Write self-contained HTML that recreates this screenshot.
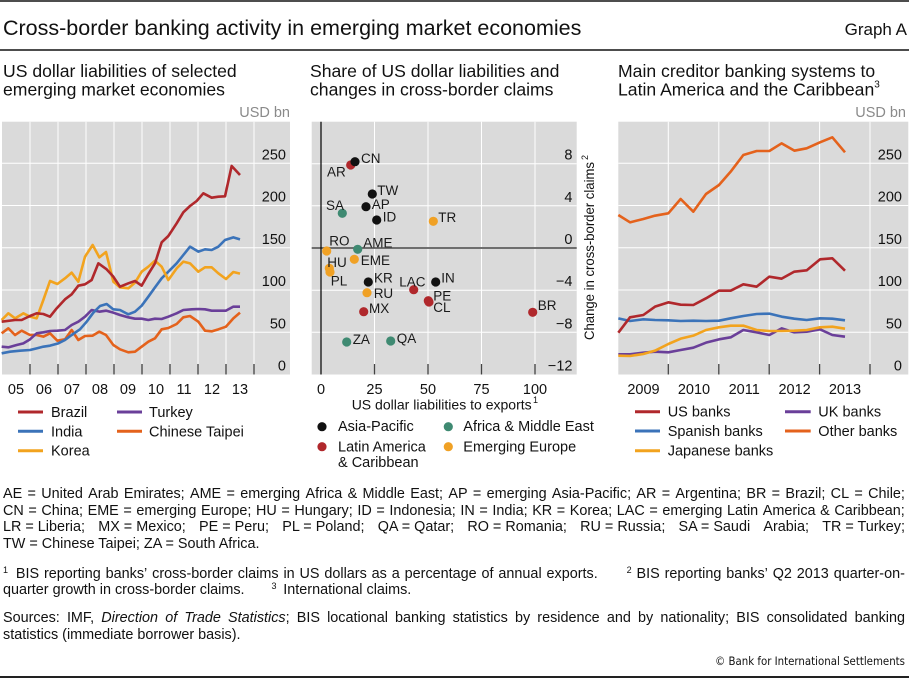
<!DOCTYPE html>
<html><head><meta charset="utf-8">
<style>
html,body{margin:0;padding:0;background:#fff;}
body{width:909px;height:678px;position:relative;overflow:hidden;font-family:"Liberation Sans",Arial,Helvetica,sans-serif;color:#111;}
svg{position:absolute;left:0;top:0;}
.fl{position:absolute;left:3px;width:902px;display:flex;justify-content:space-between;align-items:baseline;white-space:nowrap;font-size:14.4px;line-height:17px;}
.ab{position:absolute;white-space:nowrap;font-size:14.4px;line-height:17px;}
.sp{font-size:9px;position:relative;top:-5px;}
</style></head><body>
<svg width="909" height="678" viewBox="0 0 909 678" font-family="Liberation Sans, Arial, Helvetica, sans-serif" fill="#111">
<!-- rules -->
<rect x="0" y="0" width="909" height="2" fill="#4d4d4d"/>
<rect x="0" y="49" width="909" height="2" fill="#4d4d4d"/>
<rect x="0" y="676" width="909" height="2" fill="#222"/>

<text x="3" y="35" font-size="21.5">Cross-border banking activity in emerging market economies</text>
<text x="907" y="35" font-size="17" text-anchor="end">Graph A</text>

<!-- panel titles -->
<g font-size="17.6">
<text x="3" y="77">US dollar liabilities of selected</text>
<text x="3" y="95.5">emerging market economies</text>
<text x="310" y="77">Share of US dollar liabilities and</text>
<text x="310" y="95.5">changes in cross-border claims</text>
<text x="618" y="77">Main creditor banking systems to</text>
<text x="618" y="95.5">Latin America and the Caribbean<tspan font-size="10" dy="-8">3</tspan></text>
</g>
<g font-size="14.5" fill="#8a8a8a">
<text x="290" y="117" text-anchor="end">USD bn</text>
<text x="906" y="117" text-anchor="end">USD bn</text>
</g>

<!-- ===== LEFT PANEL ===== -->
<rect x="2" y="121.7" width="288" height="252.8" fill="#dadada"/>
<g stroke="#fff" stroke-width="1">
<line x1="2" y1="163.25" x2="290" y2="163.25"/>
<line x1="2" y1="205.5" x2="290" y2="205.5"/>
<line x1="2" y1="247.75" x2="290" y2="247.75"/>
<line x1="2" y1="290" x2="290" y2="290"/>
<line x1="2" y1="332.25" x2="290" y2="332.25"/>
<line x1="30" y1="121.7" x2="30" y2="374.5"/>
<line x1="58" y1="121.7" x2="58" y2="374.5"/>
<line x1="86" y1="121.7" x2="86" y2="374.5"/>
<line x1="114" y1="121.7" x2="114" y2="374.5"/>
<line x1="142" y1="121.7" x2="142" y2="374.5"/>
<line x1="170" y1="121.7" x2="170" y2="374.5"/>
<line x1="198" y1="121.7" x2="198" y2="374.5"/>
<line x1="226" y1="121.7" x2="226" y2="374.5"/>
<line x1="254" y1="121.7" x2="254" y2="374.5"/>
</g>
<g stroke="#444" stroke-width="1.3">
<line x1="30" y1="364" x2="30" y2="374.5"/>
<line x1="58" y1="364" x2="58" y2="374.5"/>
<line x1="86" y1="364" x2="86" y2="374.5"/>
<line x1="114" y1="364" x2="114" y2="374.5"/>
<line x1="142" y1="364" x2="142" y2="374.5"/>
<line x1="170" y1="364" x2="170" y2="374.5"/>
<line x1="198" y1="364" x2="198" y2="374.5"/>
<line x1="226" y1="364" x2="226" y2="374.5"/>
<line x1="254" y1="364" x2="254" y2="374.5"/>
</g>
<g font-size="14.5" text-anchor="end">
<text x="286" y="159.3">250</text>
<text x="286" y="201.5">200</text>
<text x="286" y="243.8">150</text>
<text x="286" y="286">100</text>
<text x="286" y="328.3">50</text>
<text x="286" y="370.5">0</text>
</g>
<g font-size="14.5" text-anchor="middle">
<text x="16" y="394">05</text>
<text x="44" y="394">06</text>
<text x="72" y="394">07</text>
<text x="100" y="394">08</text>
<text x="128" y="394">09</text>
<text x="156" y="394">10</text>
<text x="184" y="394">11</text>
<text x="212" y="394">12</text>
<text x="240" y="394">13</text>
</g>
<g transform="translate(0,100) scale(0.333333)" fill="none" stroke-width="7.8" stroke-linejoin="round" stroke-linecap="butt">
<polyline stroke="#e4621c" points="5,700 25,685 45,705 65,692 90,705 110,705 130,710 150,700 172,722 195,718 215,690 235,720 255,708 278,707 298,695 318,705 340,735 360,748 385,757 405,755 425,740 445,725 465,715 485,688 505,684 530,672 550,652 570,648 595,665 615,692 635,694 655,688 678,680 700,655 720,638"/>
<polyline stroke="#6a3f99" points="5,740 25,742 50,735 70,730 90,718 110,700 130,697 150,693 172,692 195,690 215,675 235,665 255,650 275,630 298,635 318,632 340,638 360,645 385,652 405,656 425,656 445,660 465,656 485,657 505,650 530,640 550,630 575,628 595,627 615,628 635,632 655,632 678,632 700,620 720,620"/>
<polyline stroke="#3b73b9" points="5,760 30,755 60,752 90,750 110,745 130,740 150,737 175,730 195,720 215,705 240,688 260,665 280,638 300,618 320,612 340,628 360,630 385,643 405,635 425,617 445,590 465,562 485,535 505,515 530,490 550,465 570,440 595,455 615,448 635,450 655,440 675,420 700,412 720,418"/>
<polyline stroke="#f2a31e" points="5,660 25,640 45,655 70,640 90,650 110,655 130,600 150,543 172,552 195,535 215,518 235,545 255,470 278,435 298,472 318,456 340,545 360,562 385,565 405,548 425,515 445,500 465,482 485,500 505,540 530,505 550,485 570,490 595,515 615,502 635,502 655,520 678,537 700,516 720,521"/>
<polyline stroke="#b0282c" points="5,665 45,660 65,660 90,648 110,640 130,642 150,650 170,625 195,598 215,583 235,557 255,553 275,540 295,490 320,508 340,530 360,560 385,550 405,543 425,557 445,522 465,490 485,427 505,408 530,370 550,337 570,318 590,303 610,280 635,293 655,290 675,289 695,198 720,225"/>
</g>
<!-- left legend -->
<g stroke-width="3">
<line x1="18" y1="412" x2="43" y2="412" stroke="#b0282c"/>
<line x1="18" y1="431.3" x2="43" y2="431.3" stroke="#3b73b9"/>
<line x1="18" y1="450.7" x2="43" y2="450.7" stroke="#f2a31e"/>
<line x1="117" y1="412" x2="142" y2="412" stroke="#6a3f99"/>
<line x1="117" y1="431.3" x2="142" y2="431.3" stroke="#e4621c"/>
</g>
<g font-size="14.5">
<text x="51" y="417">Brazil</text>
<text x="51" y="436.3">India</text>
<text x="51" y="455.7">Korea</text>
<text x="149" y="417">Turkey</text>
<text x="149" y="436.3">Chinese Taipei</text>
</g>

<!-- ===== MIDDLE PANEL ===== -->
<rect x="311.7" y="121.7" width="265" height="252.8" fill="#dadada"/>
<g stroke="#fff" stroke-width="1">
<line x1="311.7" y1="163.7" x2="576.7" y2="163.7"/>
<line x1="311.7" y1="205.8" x2="576.7" y2="205.8"/>
<line x1="311.7" y1="290.2" x2="576.7" y2="290.2"/>
<line x1="311.7" y1="332.3" x2="576.7" y2="332.3"/>
<line x1="374.5" y1="121.7" x2="374.5" y2="374.5"/>
<line x1="428" y1="121.7" x2="428" y2="374.5"/>
<line x1="481.5" y1="121.7" x2="481.5" y2="374.5"/>
<line x1="535" y1="121.7" x2="535" y2="374.5"/>
</g>
<g stroke="#444" stroke-width="1.3">
<line x1="374.5" y1="364" x2="374.5" y2="374.5"/>
<line x1="428" y1="364" x2="428" y2="374.5"/>
<line x1="481.5" y1="364" x2="481.5" y2="374.5"/>
<line x1="535" y1="364" x2="535" y2="374.5"/>
</g>
<line x1="311.7" y1="248" x2="576.7" y2="248" stroke="#6e6e6e" stroke-width="2"/>
<line x1="321" y1="121.7" x2="321" y2="374.5" stroke="#000" stroke-width="1.2"/>
<g font-size="14.5" text-anchor="end">
<text x="572.5" y="159.7">8</text>
<text x="572.5" y="201.8">4</text>
<text x="572.5" y="244">0</text>
<text x="572.5" y="286.2">−4</text>
<text x="572.5" y="328.3">−8</text>
<text x="572.5" y="370.5">−12</text>
</g>
<g font-size="14.5" text-anchor="middle">
<text x="321" y="394">0</text>
<text x="374.5" y="394">25</text>
<text x="428" y="394">50</text>
<text x="481.5" y="394">75</text>
<text x="535" y="394">100</text>
</g>
<text x="351.7" y="409.5" font-size="14" textLength="180" lengthAdjust="spacingAndGlyphs">US dollar liabilities to exports</text>
<text x="533" y="403" font-size="9">1</text>
<text transform="translate(594,340) rotate(-90)" font-size="14" textLength="178" lengthAdjust="spacingAndGlyphs">Change in cross-border claims</text>
<text transform="translate(588,160) rotate(-90)" font-size="9">2</text>
<!-- dots -->
<g>
<circle cx="350.7" cy="165" r="4.6" fill="#b0282c"/>
<circle cx="355" cy="161.7" r="4.6" fill="#111"/>
<circle cx="372.3" cy="194" r="4.6" fill="#111"/>
<circle cx="366" cy="206.7" r="4.6" fill="#111"/>
<circle cx="376.7" cy="220" r="4.6" fill="#111"/>
<circle cx="342.3" cy="213.3" r="4.6" fill="#3f8a72"/>
<circle cx="433.3" cy="221.3" r="4.6" fill="#f0a125"/>
<circle cx="326.7" cy="251" r="4.6" fill="#f0a125"/>
<circle cx="357.7" cy="249.3" r="4.6" fill="#3f8a72"/>
<circle cx="354.3" cy="259.3" r="4.6" fill="#f0a125"/>
<circle cx="329.3" cy="268.3" r="4.6" fill="#f0a125"/>
<circle cx="330" cy="272" r="4.6" fill="#f0a125"/>
<circle cx="368.3" cy="282" r="4.6" fill="#111"/>
<circle cx="435.7" cy="282" r="4.6" fill="#111"/>
<circle cx="413.7" cy="289.7" r="4.6" fill="#b0282c"/>
<circle cx="367" cy="292.7" r="4.6" fill="#f0a125"/>
<circle cx="428.3" cy="300.7" r="4.6" fill="#b0282c"/>
<circle cx="429" cy="302" r="4.6" fill="#b0282c"/>
<circle cx="363.7" cy="311.7" r="4.6" fill="#b0282c"/>
<circle cx="532.7" cy="312.3" r="4.6" fill="#b0282c"/>
<circle cx="346.7" cy="342" r="4.6" fill="#3f8a72"/>
<circle cx="390.7" cy="341" r="4.6" fill="#3f8a72"/>
</g>
<g font-size="13.5" fill="#1a1a1a">
<text x="361" y="163">CN</text>
<text x="327" y="176.5">AR</text>
<text x="377.3" y="194.8">TW</text>
<text x="371.7" y="209">AP</text>
<text x="382.7" y="221.5">ID</text>
<text x="326" y="209.8">SA</text>
<text x="438.3" y="222">TR</text>
<text x="329.3" y="245.5">RO</text>
<text x="363.3" y="247.5">AME</text>
<text x="360.7" y="264.8">EME</text>
<text x="327.3" y="267">HU</text>
<text x="330.7" y="285.5">PL</text>
<text x="374" y="282.5">KR</text>
<text x="441.3" y="282.5">IN</text>
<text x="399.3" y="286.5">LAC</text>
<text x="373.7" y="298">RU</text>
<text x="433.3" y="300.5">PE</text>
<text x="433.3" y="312">CL</text>
<text x="369" y="313">MX</text>
<text x="537.7" y="309.8">BR</text>
<text x="352.7" y="343.8">ZA</text>
<text x="396.7" y="342.8">QA</text>
</g>
<!-- middle legend -->
<circle cx="322" cy="426.7" r="4.6" fill="#111"/>
<circle cx="322" cy="446.7" r="4.6" fill="#b0282c"/>
<circle cx="448.3" cy="426.7" r="4.6" fill="#3f8a72"/>
<circle cx="448.3" cy="446.7" r="4.6" fill="#f0a125"/>
<g font-size="14.5">
<text x="338" y="431">Asia-Pacific</text>
<text x="338" y="451.5">Latin America</text>
<text x="338" y="467">&amp; Caribbean</text>
<text x="463.3" y="431">Africa &amp; Middle East</text>
<text x="463.3" y="451.5">Emerging Europe</text>
</g>

<!-- ===== RIGHT PANEL ===== -->
<rect x="618.3" y="121.7" width="290" height="252.8" fill="#dadada"/>
<g stroke="#fff" stroke-width="1">
<line x1="618.3" y1="163.25" x2="908.3" y2="163.25"/>
<line x1="618.3" y1="205.5" x2="908.3" y2="205.5"/>
<line x1="618.3" y1="247.75" x2="908.3" y2="247.75"/>
<line x1="618.3" y1="290" x2="908.3" y2="290"/>
<line x1="618.3" y1="332.25" x2="908.3" y2="332.25"/>
<line x1="668.3" y1="121.7" x2="668.3" y2="374.5"/>
<line x1="718.8" y1="121.7" x2="718.8" y2="374.5"/>
<line x1="769.2" y1="121.7" x2="769.2" y2="374.5"/>
<line x1="819.6" y1="121.7" x2="819.6" y2="374.5"/>
<line x1="870" y1="121.7" x2="870" y2="374.5"/>
</g>
<g stroke="#444" stroke-width="1.3">
<line x1="668.3" y1="364" x2="668.3" y2="374.5"/>
<line x1="718.8" y1="364" x2="718.8" y2="374.5"/>
<line x1="769.2" y1="364" x2="769.2" y2="374.5"/>
<line x1="819.6" y1="364" x2="819.6" y2="374.5"/>
<line x1="870" y1="364" x2="870" y2="374.5"/>
</g>
<g font-size="14.5" text-anchor="end">
<text x="902" y="159.3">250</text>
<text x="902" y="201.5">200</text>
<text x="902" y="243.8">150</text>
<text x="902" y="286">100</text>
<text x="902" y="328.3">50</text>
<text x="902" y="370.5">0</text>
</g>
<g font-size="14.5" text-anchor="middle">
<text x="643.5" y="394">2009</text>
<text x="694" y="394">2010</text>
<text x="744.2" y="394">2011</text>
<text x="794.6" y="394">2012</text>
<text x="845" y="394">2013</text>
</g>
<g transform="translate(600,100) scale(0.333333)" fill="none" stroke-width="7.8" stroke-linejoin="round">
<polyline stroke="#e4621c" points="55,345 90,367 130,357 165,347 205,340 242,297 280,335 318,282 357,255 392,215 430,165 470,153 508,153 545,130 583,152 620,145 660,127 697,112 735,157"/>
<polyline stroke="#3b73b9" points="55,655 90,663 130,658 165,660 205,661 242,663 280,662 318,663 357,662 392,655 430,648 470,642 508,641 545,650 583,656 620,660 660,655 697,656 735,661"/>
<polyline stroke="#6a3f99" points="55,763 90,763 130,758 165,755 205,757 242,750 280,743 318,728 357,718 392,712 430,690 470,697 508,705 545,685 583,697 620,695 660,688 697,705 735,710"/>
<polyline stroke="#f2a31e" points="55,767 90,768 130,762 165,752 205,732 242,716 280,707 318,690 357,682 392,677 430,677 470,690 508,693 545,693 583,692 620,690 660,682 697,680 735,686"/>
<polyline stroke="#b0282c" points="55,698 90,652 130,645 165,620 205,607 242,614 280,615 318,595 357,572 392,572 430,553 470,560 508,530 545,536 583,515 620,511 660,478 697,475 735,512"/>
</g>
<!-- right legend -->
<g stroke-width="3">
<line x1="635" y1="411.7" x2="660" y2="411.7" stroke="#b0282c"/>
<line x1="635" y1="431" x2="660" y2="431" stroke="#3b73b9"/>
<line x1="635" y1="450.7" x2="660" y2="450.7" stroke="#f2a31e"/>
<line x1="785" y1="411.7" x2="810.7" y2="411.7" stroke="#6a3f99"/>
<line x1="785" y1="431" x2="810.7" y2="431" stroke="#e4621c"/>
</g>
<g font-size="14.5">
<text x="667.7" y="416.7">US banks</text>
<text x="667.7" y="436">Spanish banks</text>
<text x="667.7" y="455.7">Japanese banks</text>
<text x="818.3" y="416.7">UK banks</text>
<text x="818.3" y="436">Other banks</text>
</g>

<text x="905" y="665" font-size="11.5" text-anchor="end" font-family="DejaVu Sans, Liberation Sans, sans-serif" textLength="190" lengthAdjust="spacingAndGlyphs">© Bank for International Settlements</text>
</svg>

<div class="fl" style="top:485.5px"><span>AE</span><span>=</span><span>United</span><span>Arab</span><span>Emirates;</span><span>AME</span><span>=</span><span>emerging</span><span>Africa</span><span>&amp;</span><span>Middle</span><span>East;</span><span>AP</span><span>=</span><span>emerging</span><span>Asia-Pacific;</span><span>AR</span><span>=</span><span>Argentina;</span><span>BR</span><span>=</span><span>Brazil;</span><span>CL</span><span>=</span><span>Chile;</span></div>
<div class="fl" style="top:502.5px"><span>CN</span><span>=</span><span>China;</span><span>EME</span><span>=</span><span>emerging</span><span>Europe;</span><span>HU</span><span>=</span><span>Hungary;</span><span>ID</span><span>=</span><span>Indonesia;</span><span>IN</span><span>=</span><span>India;</span><span>KR</span><span>=</span><span>Korea;</span><span>LAC</span><span>=</span><span>emerging</span><span>Latin</span><span>America</span><span>&amp;</span><span>Caribbean;</span></div>
<div class="fl" style="top:519px"><span>LR = Liberia;</span><span>MX = Mexico;</span><span>PE = Peru;</span><span>PL = Poland;</span><span>QA = Qatar;</span><span>RO = Romania;</span><span>RU = Russia;</span><span>SA = Saudi</span><span>Arabia;</span><span>TR = Turkey;</span></div>
<div class="ab" style="left:3px;top:535.5px">TW = Chinese Taipei; ZA = South Africa.</div>

<div class="fl" style="top:565.5px"><span class="sp" style="margin-right:3px">1</span><span>BIS</span><span>reporting</span><span>banks’</span><span>cross-border</span><span>claims</span><span>in</span><span>US</span><span>dollars</span><span>as</span><span>a</span><span>percentage</span><span>of</span><span>annual</span><span style="margin-right:24px">exports.</span><span class="sp">2</span><span>BIS</span><span>reporting</span><span>banks’</span><span>Q2</span><span>2013</span><span>quarter-on-</span></div>
<div class="ab" style="left:3px;top:581.5px">quarter growth in cross-border claims.</div>
<div class="ab" style="left:271.5px;top:581.5px"><span class="sp">3</span></div>
<div class="ab" style="left:283.3px;top:581.5px">International claims.</div>

<div class="fl" style="top:609.8px"><span>Sources:</span><span>IMF,</span><span><i>Direction</i></span><span><i>of</i></span><span><i>Trade</i></span><span><i>Statistics</i>;</span><span>BIS</span><span>locational</span><span>banking</span><span>statistics</span><span>by</span><span>residence</span><span>and</span><span>by</span><span>nationality;</span><span>BIS</span><span>consolidated</span><span>banking</span></div>
<div class="ab" style="left:3px;top:626.5px">statistics (immediate borrower basis).</div>
</body></html>
